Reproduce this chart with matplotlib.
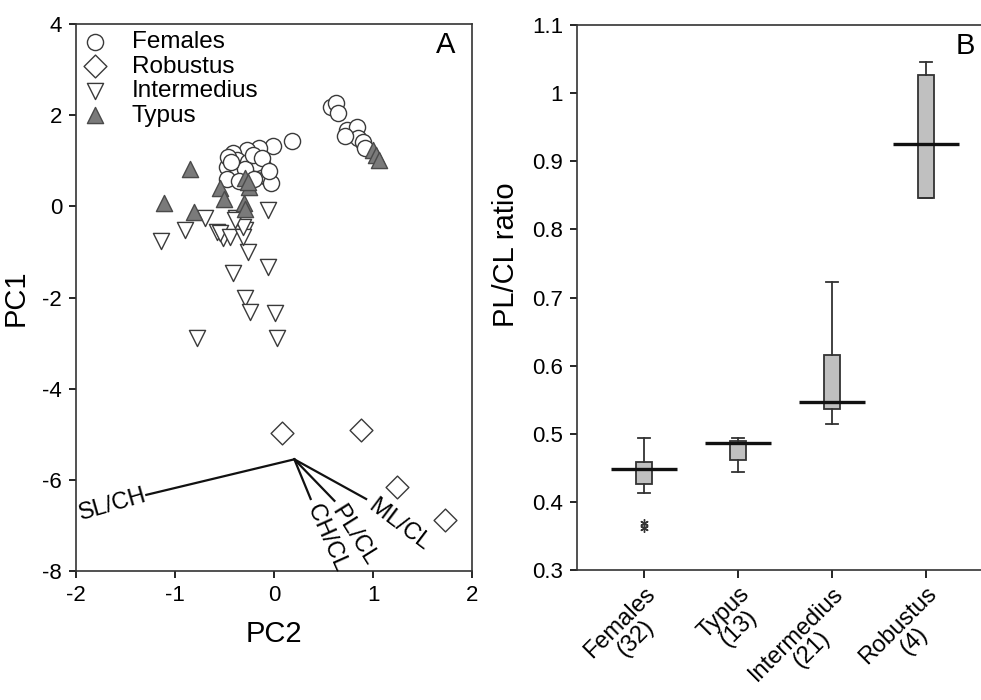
import numpy as np
import matplotlib
matplotlib.use("Agg")
import matplotlib.pyplot as plt

plt.rcParams["font.family"] = ["Liberation Sans", "DejaVu Sans"]
plt.rcParams["axes.unicode_minus"] = False

# ---- Panel A: PCA scores ----
females_pc2 = [0.18, -0.01, -0.15, -0.27, -0.41, -0.37, -0.26, -0.11, -0.48, -0.37,
               -0.24, -0.07, -0.03, -0.48, -0.46, -0.18, -0.29, -0.21, -0.43, -0.35,
               -0.20, -0.12, -0.05, 0.58, 0.63, 0.65, 0.74, 0.84, 0.85, 0.90, 0.92, 0.72]
females_pc1 = [1.43, 1.32, 1.28, 1.24, 1.17, 1.02, 0.97, 0.88, 0.86, 0.69,
               0.73, 0.64, 0.51, 0.60, 1.09, 0.94, 0.83, 1.13, 0.98, 0.55,
               0.60, 1.05, 0.78, 2.18, 2.26, 2.05, 1.67, 1.75, 1.50, 1.42, 1.28, 1.55]

robustus_pc2 = [0.08, 0.88, 1.24, 1.73]
robustus_pc1 = [-4.97, -4.91, -6.16, -6.88]

intermedius_pc2 = [-1.14, -0.90, -0.70, -0.38, -0.06, -0.58, -0.52, -0.29, -0.26, -0.06,
                   -0.41, -0.29, -0.24, 0.01, -0.78, 0.03, -0.55, -0.44, -0.31, -0.31, -0.39]
intermedius_pc1 = [-0.76, -0.52, -0.26, -0.26, -0.08, -0.56, -0.70, -0.52, -1.00, -1.33,
                   -1.46, -2.01, -2.31, -2.34, -2.89, -2.89, -0.59, -0.67, -0.67, -0.45, -0.30]

typus_pc2 = [-0.85, -1.11, -0.81, -0.55, -0.51, -0.29, -0.25, -0.30, -0.29, -0.26, 1.00, 1.03, 1.06]
typus_pc1 = [0.83, 0.07, -0.12, 0.40, 0.16, 0.62, 0.42, 0.07, -0.06, 0.53, 1.24, 1.13, 1.02]

# loading vectors (biplot)
load_origin = (0.205, -5.55)
load_names = ["SL/CH", "CH/CL", "PL/CL", "ML/CL"]
load_pc2 = [-1.29, 0.37, 0.61, 0.93]
load_pc1 = [-6.33, -6.42, -6.46, -6.42]
load_angle = [16, -66, -58, -37]

# ---- Panel B: PL/CL ratio boxes ----
groups = ["Females\n(32)", "Typus\n(13)", "Intermedius\n(21)", "Robustus\n(4)"]
q1 = [0.426, 0.461, 0.537, 0.846]
q3 = [0.459, 0.490, 0.616, 1.026]
whis_lo = [0.4135, 0.4435, 0.514, 0.846]
whis_hi = [0.494, 0.494, 0.723, 1.046]
means = [0.448, 0.4865, 0.546, 0.9255]
outliers = [[0.3686, 0.361], [], [], []]

fig = plt.figure(figsize=(9.81, 7.0), dpi=100)
axA = fig.add_axes([0.0775, 0.1843, 0.4037, 0.7814])
axB = fig.add_axes([0.5882, 0.1857, 0.4118, 0.7786])

edge = "#3a3a3a"
ms = 135
axA.scatter(females_pc2, females_pc1, s=ms, marker="o", facecolor="white",
            edgecolor=edge, linewidth=1.0, label="Females", zorder=3)
axA.scatter(robustus_pc2, robustus_pc1, s=ms, marker="D", facecolor="white",
            edgecolor=edge, linewidth=1.0, label="Robustus", zorder=3)
axA.scatter(intermedius_pc2, intermedius_pc1, s=ms, marker="v", facecolor="white",
            edgecolor=edge, linewidth=1.0, label="Intermedius", zorder=3)
axA.scatter(typus_pc2, typus_pc1, s=ms, marker="^", facecolor="#7a7a7a",
            edgecolor="#4a4a4a", linewidth=1.0, label="Typus", zorder=4)

for name, x1, y1, ang in zip(load_names, load_pc2, load_pc1, load_angle):
    axA.plot([load_origin[0], x1], [load_origin[1], y1], color="#111111", lw=1.6, zorder=2)
    if x1 < load_origin[0]:
        axA.text(x1, y1, name, rotation=ang, rotation_mode="anchor",
                 ha="right", va="center", fontsize=17)
    else:
        axA.text(x1, y1, " " + name, rotation=ang, rotation_mode="anchor",
                 ha="left", va="center", fontsize=17)

axA.set_xlim(-2, 2)
axA.set_ylim(-8, 4)
axA.set_xticks([-2, -1, 0, 1, 2])
axA.set_yticks([-8, -6, -4, -2, 0, 2, 4])
axA.tick_params(direction="out", length=5, width=1.2, labelsize=16, pad=5)
for sp in axA.spines.values():
    sp.set_linewidth(1.2)
    sp.set_color("#333333")
axA.set_xlabel("PC2", fontsize=21, labelpad=10)
axA.set_ylabel("PC1", fontsize=21)
axA.yaxis.set_label_coords(-0.116, 0.5)
axA.text(0.934, 0.962, "A", transform=axA.transAxes, fontsize=21, ha="center", va="center")
axA.legend(loc="upper left", frameon=False, fontsize=17.5, handlelength=0.95,
           handletextpad=1.05, labelspacing=0.1, borderaxespad=0.2, borderpad=0.1,
           scatterpoints=1)

# Panel B
pos = np.arange(1, len(groups) + 1)
stats = []
for i in range(len(groups)):
    stats.append({"q1": q1[i], "q3": q3[i], "med": means[i], "whislo": whis_lo[i],
                  "whishi": whis_hi[i], "fliers": outliers[i]})
axB.bxp(stats, positions=pos, widths=0.18, patch_artist=True, showfliers=True,
        boxprops=dict(facecolor="#c0c0c0", edgecolor="#333333", linewidth=1.3),
        whiskerprops=dict(color="#333333", linewidth=1.3),
        capprops=dict(color="#333333", linewidth=1.3),
        medianprops=dict(visible=False),
        flierprops=dict(marker=(6, 2, 0), markersize=6, markeredgecolor="#333333",
                        markeredgewidth=1.0, linestyle="none"),
        capwidths=0.12)
axB.hlines(means, pos - 0.35, pos + 0.35, color="#111111", linewidth=2.4, zorder=5)

axB.set_xlim(0.287, 4.585)
axB.set_ylim(0.3, 1.1)
axB.set_xticks(pos)
axB.set_xticklabels(groups, rotation=45, ha="right", va="top", rotation_mode="anchor",
                    multialignment="center", fontsize=17, linespacing=1.0)
axB.set_yticks([0.3, 0.4, 0.5, 0.6, 0.7, 0.8, 0.9, 1.0, 1.1])
axB.set_yticklabels(["0.3", "0.4", "0.5", "0.6", "0.7", "0.8", "0.9", "1", "1.1"])
axB.tick_params(axis="y", direction="out", length=5, width=1.2, labelsize=16, pad=5)
axB.tick_params(axis="x", direction="out", length=6, width=1.2, pad=3)
axB.spines["right"].set_visible(False)
for sp in ["left", "bottom", "top"]:
    axB.spines[sp].set_linewidth(1.2)
    axB.spines[sp].set_color("#333333")
axB.set_ylabel("PL/CL ratio", fontsize=21)
axB.yaxis.set_label_coords(-0.141, 0.578)
axB.text(0.960, 0.961, "B", transform=axB.transAxes, fontsize=21, ha="center", va="center")

fig.savefig("out.png", dpi=100)
